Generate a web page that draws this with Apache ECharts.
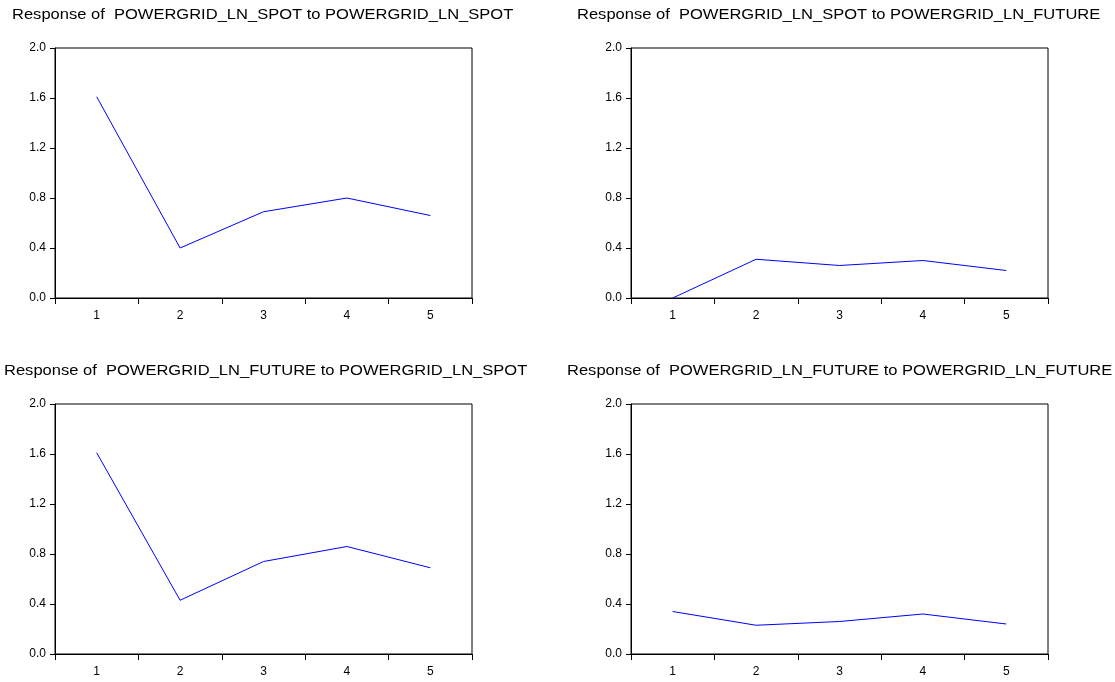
<!DOCTYPE html>
<html>
<head>
<meta charset="utf-8">
<script src="https://cdn.jsdelivr.net/npm/echarts@6/dist/echarts.min.js"></script>
<style>html,body{margin:0;padding:0;background:#fff}#c{width:1115px;height:682px}</style>
</head>
<body>
<div id="c"></div>
<script>
const periods = ['1', '2', '3', '4', '5'];
const yTicks = [0.0, 0.4, 0.8, 1.2, 1.6, 2.0];
const titles = [
  'Response of  POWERGRID_LN_SPOT to POWERGRID_LN_SPOT',
  'Response of  POWERGRID_LN_SPOT to POWERGRID_LN_FUTURE',
  'Response of  POWERGRID_LN_FUTURE to POWERGRID_LN_SPOT',
  'Response of  POWERGRID_LN_FUTURE to POWERGRID_LN_FUTURE'
];
const spotToSpot = [1.61, 0.40, 0.69, 0.80, 0.66];
const spotToFuture = [0.0, 0.31, 0.26, 0.30, 0.22];
const futureToSpot = [1.61, 0.43, 0.74, 0.86, 0.69];
const futureToFuture = [0.34, 0.23, 0.26, 0.32, 0.24];
const seriesData = [spotToSpot, spotToFuture, futureToSpot, futureToFuture];

const panels = [
  {left: 55, top: 48, titleX: 12, titleY: 15},
  {left: 631, top: 48, titleX: 577, titleY: 15},
  {left: 55, top: 404, titleX: 4, titleY: 371},
  {left: 631, top: 404, titleX: 567, titleY: 371}
];
const W = 417, H = 250;
const font = 'Liberation Sans';

const option = {
  backgroundColor: '#fff',
  animation: false,
  graphic: panels.map((p, i) => ({
    type: 'text', x: p.titleX, y: p.titleY, scaleX: 1.18, scaleY: 1, z: 100,
    style: {text: titles[i], font: '14px "Liberation Sans", Arial, sans-serif', fill: '#000',
      align: 'left', verticalAlign: 'middle'}
  })),
  grid: panels.map(p => ({
    left: p.left, top: p.top, width: W, height: H,
    show: true, borderColor: '#000', borderWidth: 1, backgroundColor: '#fff'
  })),
  xAxis: panels.map((p, i) => ({
    type: 'category', gridIndex: i, data: periods, boundaryGap: true,
    axisLine: {lineStyle: {color: '#000', width: 1}},
    axisTick: {show: true, interval: 0, length: 6, inside: false, lineStyle: {color: '#000'}},
    axisLabel: {fontFamily: font, fontSize: 12, color: '#000', margin: 12},
    splitLine: {show: false}
  })),
  yAxis: panels.map((p, i) => ({
    type: 'value', gridIndex: i, min: yTicks[0], max: yTicks[yTicks.length - 1], interval: 0.4,
    axisLine: {show: true, lineStyle: {color: '#000', width: 1}},
    axisTick: {show: true, length: 5, inside: false, lineStyle: {color: '#000'}},
    axisLabel: {fontFamily: font, fontSize: 12, color: '#000', margin: 9,
      formatter: v => v.toFixed(1)},
    splitLine: {show: false}
  })),
  series: seriesData.map((d, i) => ({
    type: 'line', xAxisIndex: i, yAxisIndex: i, data: d,
    showSymbol: false, symbol: 'none',
    lineStyle: {color: '#0000ff', width: 1}, itemStyle: {color: '#0000ff'}
  }))
};
const chart = echarts.init(document.getElementById('c'), null, {renderer: 'canvas'});
chart.setOption(option);
</script>
</body>
</html>
